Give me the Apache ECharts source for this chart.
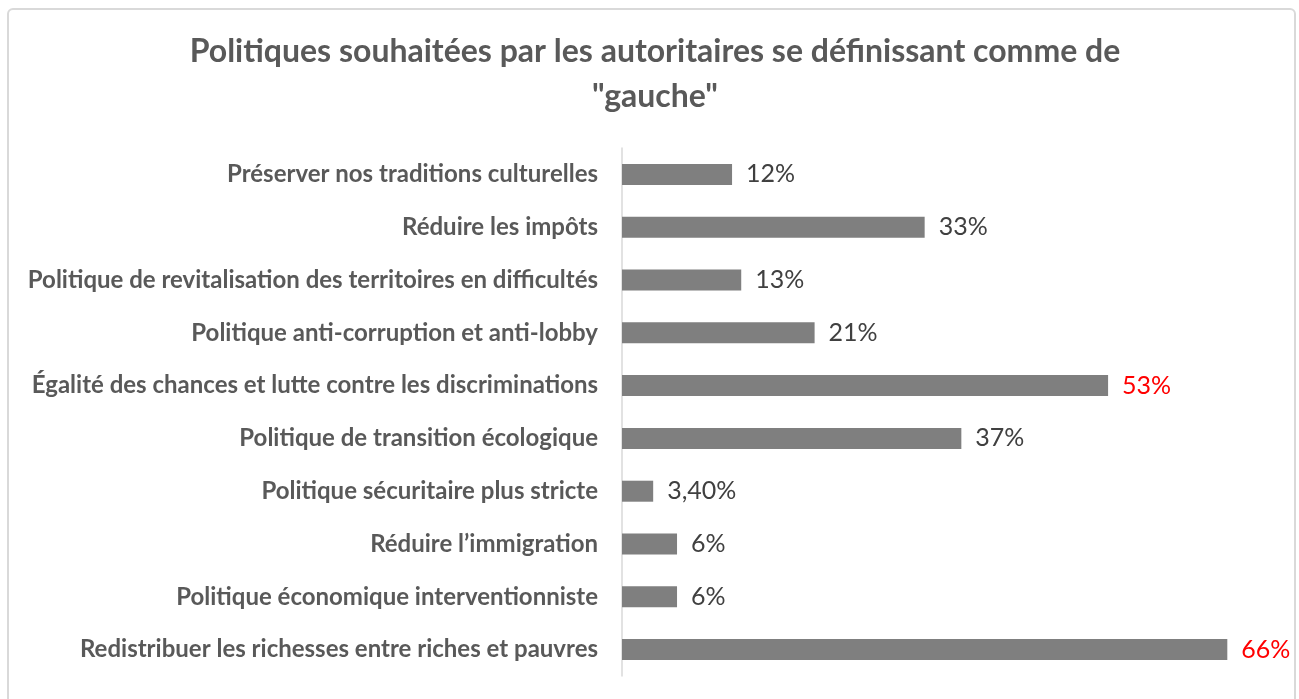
<!DOCTYPE html>
<html>
<head>
<meta charset="utf-8">
<script src="https://cdn.jsdelivr.net/npm/echarts@6/dist/echarts.min.js"></script>
<style>
  html, body { margin: 0; padding: 0; background: #fff; }
  #frame {
    position: absolute; left: 7px; top: 8px; width: 1289px; height: 700px;
    border: 2px solid #d9d9d9; border-radius: 6px; box-sizing: border-box;
  }
  #chart { position: absolute; left: 0; top: 0; width: 1299px; height: 699px; }
</style>
</head>
<body>
<div id="frame"></div>
<div id="chart"></div>
<script>
// categories, top to bottom as in the picture
const categories = [
  "Préserver nos traditions culturelles",
  "Réduire les impôts",
  "Politique de revitalisation des territoires en difficultés",
  "Politique anti-corruption et anti-lobby",
  "Égalité des chances et lutte contre les discriminations",
  "Politique de transition écologique",
  "Politique sécuritaire plus stricte",
  "Réduire l’immigration",
  "Politique économique interventionniste",
  "Redistribuer les richesses entre riches et pauvres"
];
const values = [12, 33, 13, 21, 53, 37, 3.4, 6, 6, 66];
const valueLabels = ["12%", "33%", "13%", "21%", "53%", "37%", "3,40%", "6%", "6%", "66%"];
const highlighted = [false, false, false, false, true, false, false, false, false, true];

const myChart = echarts.init(document.getElementById("chart"));

const option = {
  animation: false,
  title: {
    text: 'Politiques souhaitées par les autoritaires se définissant comme de\n"gauche"',
    left: 650,
    textAlign: "center",
    top: 24,
    textStyle: {
      fontFamily: "Lato",
      fontWeight: "bold",
      fontSize: 32,
      lineHeight: 45,
      color: "#595959"
    }
  },
  grid: {
    left: 622,
    top: 148,
    width: 642,
    height: 528
  },
  xAxis: {
    type: "value",
    min: 0,
    max: 70,
    show: false
  },
  yAxis: {
    type: "category",
    inverse: true,
    data: categories,
    axisLine: { lineStyle: { color: "#d9d9d9", width: 1.5 } },
    axisTick: { show: false },
    axisLabel: {
      margin: 24,
      fontFamily: "Lato",
      fontWeight: "bold",
      fontSize: 24,
      color: "#595959"
    }
  },
  series: [
    {
      type: "bar",
      barWidth: 21,
      data: values.map(function (v, i) {
        return {
          value: v,
          label: { color: highlighted[i] ? "#ff0000" : "#404040" }
        };
      }),
      itemStyle: { color: "#7f7f7f" },
      label: {
        show: true,
        position: "right",
        distance: 14,
        fontFamily: "Lato",
        fontSize: 25,
        formatter: function (p) {
          return valueLabels[p.dataIndex];
        }
      }
    }
  ]
};

myChart.setOption(option);
</script>
</body>
</html>
